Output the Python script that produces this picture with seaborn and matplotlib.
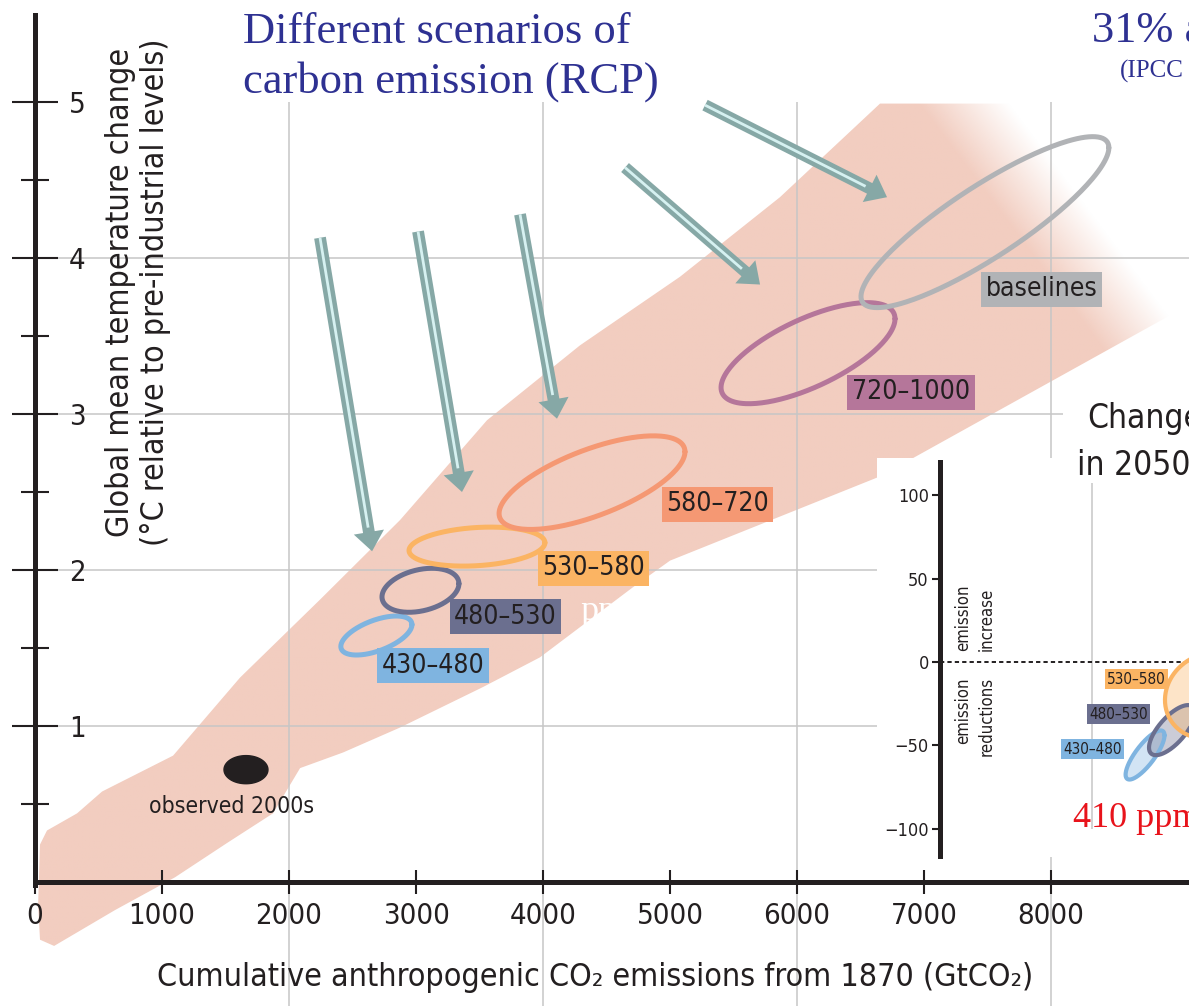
import numpy as np
import seaborn as sns
import matplotlib.pyplot as plt
from matplotlib.patches import Polygon, FancyArrowPatch, ArrowStyle

# ---- main chart data (GtCO2, degC) ----
band_upper_x = [24, 39, 94, 331, 528, 1087, 1614, 2244, 2874, 3559, 4291, 5079, 5866, 6654, 9087]
band_upper_y = [-0.15, 0.24, 0.33, 0.44, 0.58, 0.81, 1.31, 1.81, 2.32, 2.96, 3.44, 3.88, 4.39, 4.99, 4.99]
band_lower_x = [9087, 6654, 5000, 4709, 3976, 3528, 2874, 2425, 2087, 1874, 1512, 1102, 630, 150, 39]
band_lower_y = [3.70, 2.60, 2.06, 1.89, 1.44, 1.25, 0.99, 0.83, 0.73, 0.44, 0.25, 0.03, -0.18, -0.41, -0.37]

scenarios = ['430–480', '480–530', '530–580', '580–720', '720–1000', 'baselines']
scen_x = [2688, 3035, 3480, 4386, 6087, 7480]
scen_y = [1.58, 1.87, 2.15, 2.56, 3.39, 4.23]
scen_dx = [280, 303, 535, 732, 685, 976]
scen_dy = [0.125, 0.141, 0.125, 0.30, 0.324, 0.548]
scen_corr = [0.56, 0.30, 0.20, 0.66, 0.68, 0.87]
scen_colors = ['#7fb4e0', '#6b6f8f', '#fbb463', '#f59873', '#b5769a', '#b1b3b6']
label_x = [2732, 3299, 3992, 4969, 6433, 7488]
label_y = [1.385, 1.70, 2.01, 2.42, 3.14, 3.80]

obs_x, obs_y, obs_dx, obs_dy = 1661, 0.72, 173, 0.09

arrow_start = [(2244, 4.13), (3016, 4.17), (3819, 4.28), (4646, 4.58), (5276, 4.98)]
arrow_end = [(2654, 2.12), (3362, 2.50), (4110, 2.97), (5709, 3.83), (6709, 4.39)]

# ---- inset data (change in emissions in 2050, %) ----
inset_names = ['430–480', '480–530', '530–580']
inset_x = [1349, 1526, 1776]
inset_y = [-55.7, -40.8, -20.2]
inset_dx = [128, 151, 296]
inset_dy = [14.7, 15.0, 25.7]
inset_corr = [0.80, 0.70, 0.10]
inset_colors = ['#7fb4e0', '#6b6f8f', '#fbb463']
inset_label_x = [809, 980, 1099]
inset_label_y = [-52.2, -31.2, -10.2]

PINK = '#f2cdc0'
DARK = '#231f20'
GRID = '#c6c6c6'
BLUE = '#2e3192'
TEAL = '#86a8a6'

sns.set_theme(style='white')
plt.rcParams['font.family'] = ['DejaVu Sans']
plt.rcParams['font.stretch'] = 'condensed'
SERIF = ['Liberation Serif', 'DejaVu Serif']


def ellipse(cx, cy, rx, ry, corr, n=240):
    t = np.linspace(0, 2 * np.pi, n)
    return cx + rx * np.cos(t), cy + ry * np.cos(t - np.arccos(corr))


fig = plt.figure(figsize=(11.89, 10.06), dpi=100)
ax = fig.add_axes([0, 0, 1, 1])
XLIM, YLIM = (-276, 9087), (-0.795, 5.654)
ax.set_xlim(*XLIM)
ax.set_ylim(*YLIM)
ax.set_autoscale_on(False)
ax.set_facecolor('white')

# band with fade towards the upper right
bx = band_upper_x + band_lower_x
by = band_upper_y + band_lower_y
poly = Polygon(np.column_stack([bx, by]), closed=True, transform=ax.transData,
               facecolor='none', edgecolor='none')
ax.add_patch(poly)
gx = np.linspace(0, 9087, 500)
gy = np.linspace(-0.8, 5.1, 400)
GX, GY = np.meshgrid(gx, gy)
disp = ax.transData.transform(np.column_stack([GX.ravel(), GY.ravel()]))
px = disp[:, 0]
py = fig.bbox.height - disp[:, 1]
u = px - (py - 103) * 0.75
alpha = np.clip((1010 - u) / 90, 0, 1).reshape(GX.shape)
rgba = np.zeros(GX.shape + (4,))
rgba[..., :3] = plt.matplotlib.colors.to_rgb(PINK)
rgba[..., 3] = alpha
im = ax.imshow(rgba, extent=[gx[0], gx[-1], gy[0], gy[-1]], origin='lower',
               aspect='auto', interpolation='bilinear', zorder=1)
im.set_clip_path(poly)

# grid
ax.vlines([2000, 4000, 6000, 8000], -0.8, 5.0, colors=GRID, lw=1.1, zorder=1.5, clip_on=False)
ax.hlines([1, 2, 3], 0, 8094, colors=GRID, lw=1.1, zorder=1.5)
ax.hlines([4], 0, 9087, colors=GRID, lw=1.1, zorder=1.5)

# scenario ellipses
for i, name in enumerate(scenarios):
    ex, ey = ellipse(scen_x[i], scen_y[i], scen_dx[i], scen_dy[i], scen_corr[i])
    sns.lineplot(x=ex, y=ey, sort=False, estimator=None, color=scen_colors[i],
                 lw=3.6, ax=ax, zorder=3)
    ax.text(label_x[i], label_y[i], name, ha='left', va='center', fontsize=19, color=DARK,
            bbox=dict(boxstyle='square,pad=0.17', fc=scen_colors[i], ec='none'), zorder=5)

ex, ey = ellipse(obs_x, obs_y, obs_dx, obs_dy, 0.0)
ax.fill(ex, ey, color=DARK, zorder=3)
ax.text(898, 0.44, 'observed 2000s', ha='left', va='baseline', fontsize=16.5, color=DARK, zorder=5)

# arrows
style = ArrowStyle.Simple(head_length=14, head_width=22, tail_width=8.5)
for s, e in zip(arrow_start, arrow_end):
    ax.add_patch(FancyArrowPatch(s, e, arrowstyle=style, mutation_scale=1, color=TEAL,
                                 lw=0, shrinkA=0, shrinkB=0, zorder=4))
    p0 = ax.transData.transform(s)
    p1 = ax.transData.transform(e)
    L = np.hypot(*(p1 - p0))
    q = p0 + (p1 - p0) * (1 - 24 / L)
    qd = ax.transData.inverted().transform(q)
    ax.plot([s[0], qd[0]], [s[1], qd[1]], color='#d6f1f1', lw=2, solid_capstyle='butt', zorder=4.5)

ax.text(4291, 1.68, 'ppm', ha='left', va='baseline', fontsize=26, color='white',
        family=SERIF, zorder=5)

# axes styling
for side in ['top', 'right']:
    ax.spines[side].set_visible(False)
ax.spines['left'].set_position(('data', 0))
ax.spines['left'].set_bounds(-0.02, 5.56)
ax.spines['bottom'].set_position(('data', 0))
ax.spines['bottom'].set_bounds(0, 9087)
for side in ['left', 'bottom']:
    ax.spines[side].set_linewidth(3.6)
    ax.spines[side].set_color(DARK)
    ax.spines[side].set_zorder(6)
ax.xaxis.set_zorder(6)
ax.yaxis.set_zorder(6)

xt = list(range(0, 9000, 1000))
ax.set_xticks(xt)
ax.set_xticklabels([str(v) for v in xt])
ax.tick_params(axis='x', direction='inout', length=17, width=1.5, pad=6,
               labelsize=21, colors=DARK, bottom=True)
yt = [1, 2, 3, 4, 5]
ax.set_yticks(yt)
ax.set_yticklabels([str(v) for v in yt])
ax.set_yticks([0.5, 1.5, 2.5, 3.5, 4.5], minor=True)
ax.tick_params(axis='y', which='major', direction='inout', length=33, width=1.5, pad=-41,
               labelsize=21, colors=DARK, left=True)
ax.tick_params(axis='y', which='minor', direction='inout', length=20, width=1.5, left=True,
               colors=DARK)
for lbl in ax.get_yticklabels():
    lbl.set_ha('left')
ax.set_xlabel('')
ax.set_ylabel('')

ax.text(811, 3.78, 'Global mean temperature change\n(°C relative to pre-industrial levels)',
        rotation=90, ha='center', va='center', multialignment='center', fontsize=23,
        linespacing=1.2, color=DARK)
ax.text(4409, -0.615, 'Cumulative anthropogenic CO₂ emissions from 1870 (GtCO₂)',
        ha='center', va='center', fontsize=23, color=DARK)

# ---- inset ----
ax2 = fig.add_axes([877 / 1189, 149 / 1006, 312 / 1189, 399 / 1006])
ax2.set_facecolor('white')
ax2.set_xlim(-414, 1638)
ax2.set_ylim(-116.8, 122.2)
ax2.set_autoscale_on(False)
for side in ['top', 'right', 'bottom']:
    ax2.spines[side].set_visible(False)
ax2.spines['left'].set_position(('data', 0))
ax2.spines['left'].set_bounds(-116, 120)
ax2.spines['left'].set_linewidth(3.6)
ax2.spines['left'].set_color(DARK)
ax2.set_xticks([])
it = [-100, -50, 0, 50, 100]
ax2.set_yticks(it)
ax2.set_yticklabels([str(v).replace('-', '−') for v in it])
ax2.tick_params(axis='y', direction='out', length=6, width=1.5, pad=2, labelsize=13,
                colors=DARK, left=True)
ax2.vlines(1000, -100, 107, colors=GRID, lw=1.1, zorder=0.5)
ax2.plot([0, 1638], [0, 0], color=DARK, lw=1.4, dashes=(2.2, 1.6), zorder=2)

for i, name in enumerate(inset_names):
    ex, ey = ellipse(inset_x[i], inset_y[i], inset_dx[i], inset_dy[i], inset_corr[i])
    ax2.fill(ex, ey, color=inset_colors[i], alpha=0.35, lw=0, zorder=2)
    sns.lineplot(x=ex, y=ey, sort=False, estimator=None, color=inset_colors[i],
                 lw=3, ax=ax2, zorder=3)
    ax2.text(inset_label_x[i], inset_label_y[i], name, ha='left', va='center', fontsize=11,
             color=DARK, bbox=dict(boxstyle='square,pad=0.15', fc=inset_colors[i], ec='none'),
             zorder=5)

ax2.text(230, 6.5, 'emission\nincrease', rotation=90, ha='center', va='bottom',
         multialignment='left', fontsize=12, linespacing=1.45, color=DARK)
ax2.text(230, -9, 'emission\nreductions', rotation=90, ha='center', va='top',
         multialignment='right', fontsize=12, linespacing=1.45, color=DARK)
ax2.set_xlabel('')
ax2.set_ylabel('')

# ---- slide annotations (cut at the right edge, as in the slide) ----
H = 1006.0
fig.text(243 / 1189, 1 - 43 / H, 'Different scenarios of', ha='left', va='baseline',
         fontsize=32, color=BLUE, family=SERIF)
fig.text(243 / 1189, 1 - 93 / H, 'carbon emission (RCP)', ha='left', va='baseline',
         fontsize=32, color=BLUE, family=SERIF)
fig.text(1092 / 1189, 1 - 42 / H, '31% a', ha='left', va='baseline', fontsize=32,
         color=BLUE, family=SERIF)
fig.text(1120 / 1189, 1 - 78 / H, '(IPCC', ha='left', va='baseline', fontsize=18,
         color=BLUE, family=SERIF)
fig.text(1087 / 1189, 1 - 428 / H, 'Change', ha='left', va='baseline', fontsize=24,
         color=DARK, zorder=10)
fig.text(1077 / 1189, 1 - 475 / H, 'in 2050', ha='left', va='baseline', fontsize=24,
         color=DARK, zorder=10)
fig.text(1073 / 1189, 1 - 827 / H, '410 ppm', ha='left', va='baseline', fontsize=26,
         color='#e8131b', family=SERIF, zorder=10)

ax.set_xlim(*XLIM)
ax.set_ylim(*YLIM)
fig.savefig('out.png', dpi=100)
